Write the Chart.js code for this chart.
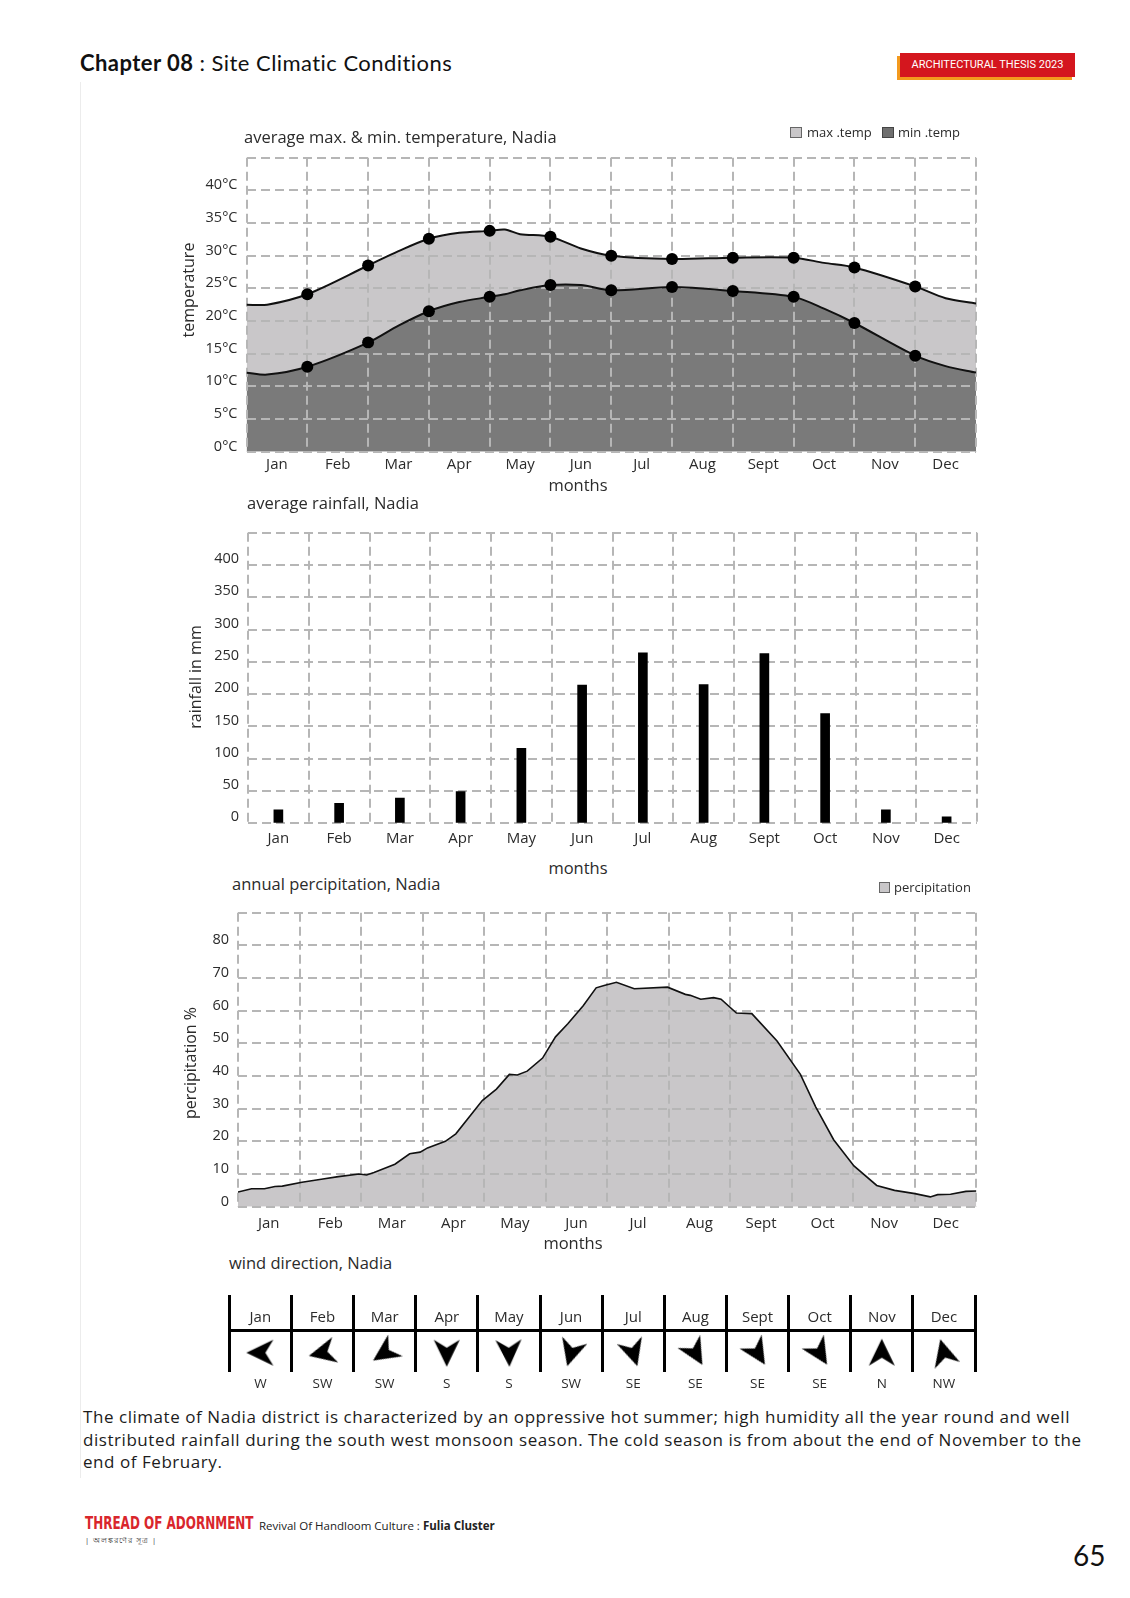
<!DOCTYPE html>
<html>
<head>
<meta charset="utf-8">
<script src="https://cdn.jsdelivr.net/npm/chart.js@4.4.1/dist/chart.umd.min.js"></script>
<style>
  html, body { margin: 0; padding: 0; background: #fff; }
  body { width: 1130px; height: 1598px; position: relative; overflow: hidden; font-family: 'Open Sans', sans-serif; color: #2b2b2b; }
  canvas { position: absolute; }
  .t { position: absolute; white-space: nowrap; line-height: 1; transform: translateY(-50%); }
  .c { position: absolute; white-space: nowrap; line-height: 1; transform: translate(-50%, -50%); }
  .rot { position: absolute; white-space: nowrap; line-height: 1; transform: translate(-50%, -50%) rotate(-90deg); font-size: 16px; }
  .box { position: absolute; border: 1px solid #666; box-sizing: border-box; }
  .ttl { font-size: 16.5px; }
</style>
</head>
<body>
<div style="position:absolute;left:80px;top:82px;width:1px;height:1396px;background:#ececec"></div>

<div class="t" style="left:80px;top:63px;font-family:Lato;font-size:22px;letter-spacing:0.45px;color:#111"><b style="font-weight:700">Chapter 08</b> : Site Climatic Conditions</div>
<div style="position:absolute;left:897px;top:56px;width:175px;height:24px;background:#f39a1e"></div>
<div style="position:absolute;left:900px;top:53px;width:175px;height:24px;background:#d4161e;color:#fff;font-family:Roboto;font-size:11px;line-height:24px;text-align:center">ARCHITECTURAL THESIS 2023</div>

<canvas id="c-temp" width="840" height="340" style="left:150px;top:140px;width:840px;height:340px"></canvas>
<canvas id="c-rain" width="840" height="340" style="left:150px;top:515px;width:840px;height:340px"></canvas>
<canvas id="c-prec" width="840" height="340" style="left:150px;top:895px;width:840px;height:340px"></canvas>
<canvas id="c-wind" width="780" height="120" style="left:210px;top:1280px;width:780px;height:120px"></canvas>

<div class="t ttl" style="left:244px;top:137px">average max. &amp; min. temperature, Nadia</div>
<div class="box" style="left:790px;top:127px;width:12px;height:11px;background:#c9c7c9"></div>
<div class="t" style="left:807px;top:132px;font-size:13px">max .temp</div>
<div class="box" style="left:882px;top:127px;width:12px;height:11px;background:#6f6f6f;border-color:#444"></div>
<div class="t" style="left:898px;top:132px;font-size:13px">min .temp</div>
<div class="rot" style="left:188px;top:290px">temperature</div>
<div class="c ttl" style="left:578px;top:485px">months</div>

<div class="t ttl" style="left:247px;top:503px">average rainfall, Nadia</div>
<div class="rot" style="left:195px;top:677px">rainfall in mm</div>
<div class="c ttl" style="left:578px;top:868px">months</div>

<div class="t ttl" style="left:232px;top:884px">annual percipitation, Nadia</div>
<div class="box" style="left:879px;top:882px;width:11px;height:11px;background:#c9c7c9"></div>
<div class="t" style="left:894px;top:887px;font-size:13px">percipitation</div>
<div class="rot" style="left:190px;top:1063px">percipitation %</div>
<div class="c ttl" style="left:573px;top:1243px">months</div>

<div class="t ttl" style="left:229px;top:1263px">wind direction, Nadia</div>

<div style="position:absolute;left:83px;top:1406px;font-size:17px;letter-spacing:0.55px;line-height:22.5px;color:#1c1c1c;white-space:nowrap">The climate of Nadia district is characterized by an oppressive hot summer; high humidity all the year round and well<br>distributed rainfall during the south west monsoon season. The cold season is from about the end of November to the<br>end of February.</div>

<div class="t" style="left:85px;top:1523px;font-family:'Liberation Sans Narrow','DejaVu Sans Condensed',sans-serif;font-weight:700;font-size:18px;color:#d9262c;transform:translateY(-50%) scaleX(0.74);transform-origin:left center">THREAD OF ADORNMENT</div>
<div class="t" style="left:259px;top:1526px;font-size:11.5px;color:#222">Revival Of Handloom Culture : <b>Fulia Cluster</b></div>
<div class="t" style="left:85px;top:1541px;font-size:7.5px;color:#333;letter-spacing:1px">| অলঙ্করণের সূত্র |</div>
<div class="t" style="left:1073px;top:1555px;font-family:Lato;font-size:28px;color:#111">65</div>

<script>
const months = ['Jan', 'Feb', 'Mar', 'Apr', 'May', 'Jun', 'Jul', 'Aug', 'Sept', 'Oct', 'Nov', 'Dec'];

// temperature curves, x in month-column units (gridline positions 0..12)
const tempX = [0, 0.34, 1, 2, 2.5, 3, 3.5, 4, 4.25, 4.5, 5, 5.5, 6, 7, 8, 9, 9.5, 10, 11, 11.5, 12];
const maxTemp = [22.5, 22.5, 24.1, 28.5, 30.7, 32.6, 33.5, 33.8, 34.0, 33.3, 32.9, 31.1, 30.0, 29.5, 29.7, 29.7, 28.9, 28.2, 25.3, 23.5, 22.7];
const minTemp = [12.1, 11.8, 13.0, 16.7, 19.3, 21.5, 22.9, 23.7, 24.1, 24.7, 25.5, 25.5, 24.7, 25.2, 24.6, 23.7, 21.9, 19.7, 14.7, 13.1, 12.1];

const rainfall = [21, 31, 39, 49, 116, 214, 264, 215, 263, 170, 21, 10];

const precipX = [0, 0.22, 0.43, 0.6, 0.72, 1.04, 1.38, 1.63, 1.97, 2.09, 2.21, 2.55, 2.79, 2.96, 3.08, 3.37, 3.54, 3.97, 4.2, 4.41, 4.54, 4.7, 4.95, 5.16, 5.36, 5.61, 5.82, 5.95, 6.15, 6.44, 6.98, 7.27, 7.35, 7.52, 7.73, 7.85, 8.1, 8.35, 8.76, 9.14, 9.39, 9.68, 10.01, 10.38, 10.67, 11, 11.25, 11.37, 11.58, 11.83, 12];
const precipValues = [4.5, 5.5, 5.5, 6.2, 6.3, 7.5, 8.5, 9.2, 10, 9.7, 10.5, 13, 16.2, 16.7, 18, 20, 22.3, 32.5, 36, 40.5, 40.3, 41.5, 45.5, 52, 56, 61.5, 67, 67.7, 68.7, 66.7, 67.2, 65, 64.7, 63.5, 64, 63.5, 59.3, 59.1, 50.7, 40.5, 30.5, 20.5, 12.5, 6.5, 5, 4, 3, 3.7, 3.8, 4.7, 4.8];

const windDirs = ['W', 'SW', 'SW', 'S', 'S', 'SW', 'SE', 'SE', 'SE', 'SE', 'N', 'NW'];
const windAngles = [270, 257, 236, 180, 178, 196, 163, 150, 148, 148, 0, 345];

const tempTicks = { max: 45, step: 5 };
const rainTicks = { max: 450, step: 50 };
const precipTicks = { max: 90, step: 10 };

Chart.defaults.font.family = "'Open Sans', sans-serif";
Chart.defaults.color = '#2b2b2b';

const TEXT = '#2b2b2b';
const dashedGrid = { color: '#b6b6b6', lineWidth: 2, drawTicks: false };
const dashedBorder = { display: false, dash: [9, 5] };

function toPoints(xs, ys) {
  return xs.map((x, i) => ({ x, y: ys[i] }));
}

function monthAxis(height, padding) {
  return {
    type: 'category',
    offset: true,
    grid: { ...dashedGrid, offset: true },
    border: dashedBorder,
    ticks: { padding, font: { size: 15 }, color: TEXT, maxRotation: 0, autoSkip: false },
    afterFit: (s) => { s.height = height; },
  };
}

function valueAxis(t, width, offset, fmt) {
  return {
    min: 0,
    max: t.max,
    grid: dashedGrid,
    border: dashedBorder,
    ticks: {
      stepSize: t.step,
      padding: 9,
      labelOffset: offset,
      font: { size: 14.5 },
      color: TEXT,
      callback: (v) => (v === t.max ? '' : fmt(v)),
    },
    afterFit: (s) => { s.width = width; },
  };
}

const basePlugins = { legend: { display: false }, tooltip: { enabled: false }, filler: { drawTime: 'beforeDraw' } };
const markerRadius = (c) => (Number.isInteger(c.raw.x) && c.raw.x > 0 && c.raw.x < 12 ? 6 : 0);

// temperature
new Chart(document.getElementById('c-temp'), {
  type: 'line',
  data: {
    labels: months,
    datasets: [
      {
        label: 'max .temp',
        data: toPoints(tempX, maxTemp),
        xAxisID: 'xd',
        borderColor: '#111',
        borderWidth: 2,
        backgroundColor: '#c9c7c9',
        fill: 1,
        tension: 0.3,
        pointRadius: markerRadius,
        pointBackgroundColor: '#000',
        pointBorderWidth: 0,
      },
      {
        label: 'min .temp',
        data: toPoints(tempX, minTemp),
        xAxisID: 'xd',
        borderColor: '#111',
        borderWidth: 2,
        backgroundColor: '#7a7a7a',
        fill: 'origin',
        tension: 0.3,
        pointRadius: markerRadius,
        pointBackgroundColor: '#000',
        pointBorderWidth: 0,
      },
    ],
  },
  options: {
    animation: false,
    responsive: false,
    layout: { padding: { top: 14.3, right: 14, bottom: 0, left: 0 } },
    plugins: basePlugins,
    scales: {
      x: monthAxis(28.3, 4.5),
      xd: { type: 'linear', min: 0, max: 12, display: false },
      y: valueAxis(tempTicks, 96.5, -5, (v) => v + '°C'),
    },
  },
});

// rainfall
new Chart(document.getElementById('c-rain'), {
  type: 'bar',
  data: {
    labels: months,
    datasets: [{ label: 'rainfall', data: rainfall, backgroundColor: '#000', barThickness: 9 }],
  },
  options: {
    animation: false,
    responsive: false,
    layout: { padding: { top: 11.7, right: 13, bottom: 0, left: 0 } },
    plugins: basePlugins,
    scales: {
      x: monthAxis(31.7, 6),
      y: valueAxis(rainTicks, 98, -6, (v) => String(v)),
    },
  },
});

// percipitation
new Chart(document.getElementById('c-prec'), {
  type: 'line',
  data: {
    labels: months,
    datasets: [{
      label: 'percipitation',
      data: toPoints(precipX, precipValues),
      xAxisID: 'xd',
      borderColor: '#111',
      borderWidth: 1.6,
      backgroundColor: '#c9c7c9',
      fill: 'origin',
      tension: 0,
      pointRadius: 0,
    }],
  },
  options: {
    animation: false,
    responsive: false,
    layout: { padding: { top: 11.7, right: 13.6, bottom: 0, left: 0 } },
    plugins: basePlugins,
    scales: {
      x: monthAxis(28.3, 7.6),
      xd: { type: 'linear', min: 0, max: 12, display: false },
      y: valueAxis(precipTicks, 88, -5, (v) => String(v)),
    },
  },
});

// wind direction table
function makeArrow() {
  const c = document.createElement('canvas');
  c.width = 32;
  c.height = 32;
  const g = c.getContext('2d');
  g.translate(16, 16);
  g.beginPath();
  g.moveTo(0, -14);
  g.lineTo(13, 13);
  g.lineTo(0, 5);
  g.lineTo(-13, 13);
  g.closePath();
  g.fillStyle = '#000';
  g.fill();
  return c;
}

const ROW_LINE = 46;
const ROW_ARROW = 21.5;
const ROW_MONTH = 60.5;

const monthRowLabels = {
  id: 'monthRowLabels',
  afterDatasetsDraw(chart) {
    const { ctx, scales } = chart;
    ctx.save();
    ctx.font = "15px 'Open Sans'";
    ctx.fillStyle = TEXT;
    ctx.textAlign = 'center';
    ctx.textBaseline = 'middle';
    months.forEach((m, i) => {
      ctx.fillText(m, scales.x.getPixelForValue(i), scales.y.getPixelForValue(ROW_MONTH));
    });
    ctx.restore();
  },
};

new Chart(document.getElementById('c-wind'), {
  type: 'line',
  data: {
    labels: windDirs,
    datasets: [{
      label: 'wind',
      data: windAngles.map((a, i) => ({ x: i, y: ROW_ARROW })),
      showLine: false,
      pointStyle: makeArrow(),
      pointRadius: 14,
      pointRotation: windAngles,
    }],
  },
  options: {
    animation: false,
    responsive: false,
    layout: { padding: { top: 6, right: 14, bottom: 0, left: 19.3 } },
    plugins: { legend: { display: false }, tooltip: { enabled: false } },
    scales: {
      x: {
        type: 'category',
        offset: true,
        grid: { offset: true, color: '#000', lineWidth: 3, drawTicks: false },
        border: { display: false },
        ticks: { padding: 4, font: { size: 13.5 }, color: TEXT, maxRotation: 0, autoSkip: false },
        afterFit: (s) => { s.height = 28; },
      },
      y: {
        min: 0,
        max: 86,
        grid: { color: '#000', lineWidth: 3, drawTicks: false },
        border: { display: false },
        ticks: { display: false },
        afterBuildTicks: (s) => { s.ticks = [{ value: ROW_LINE }]; },
        afterFit: (s) => { s.width = 0; },
      },
    },
  },
  plugins: [monthRowLabels],
});
</script>
</body>
</html>
